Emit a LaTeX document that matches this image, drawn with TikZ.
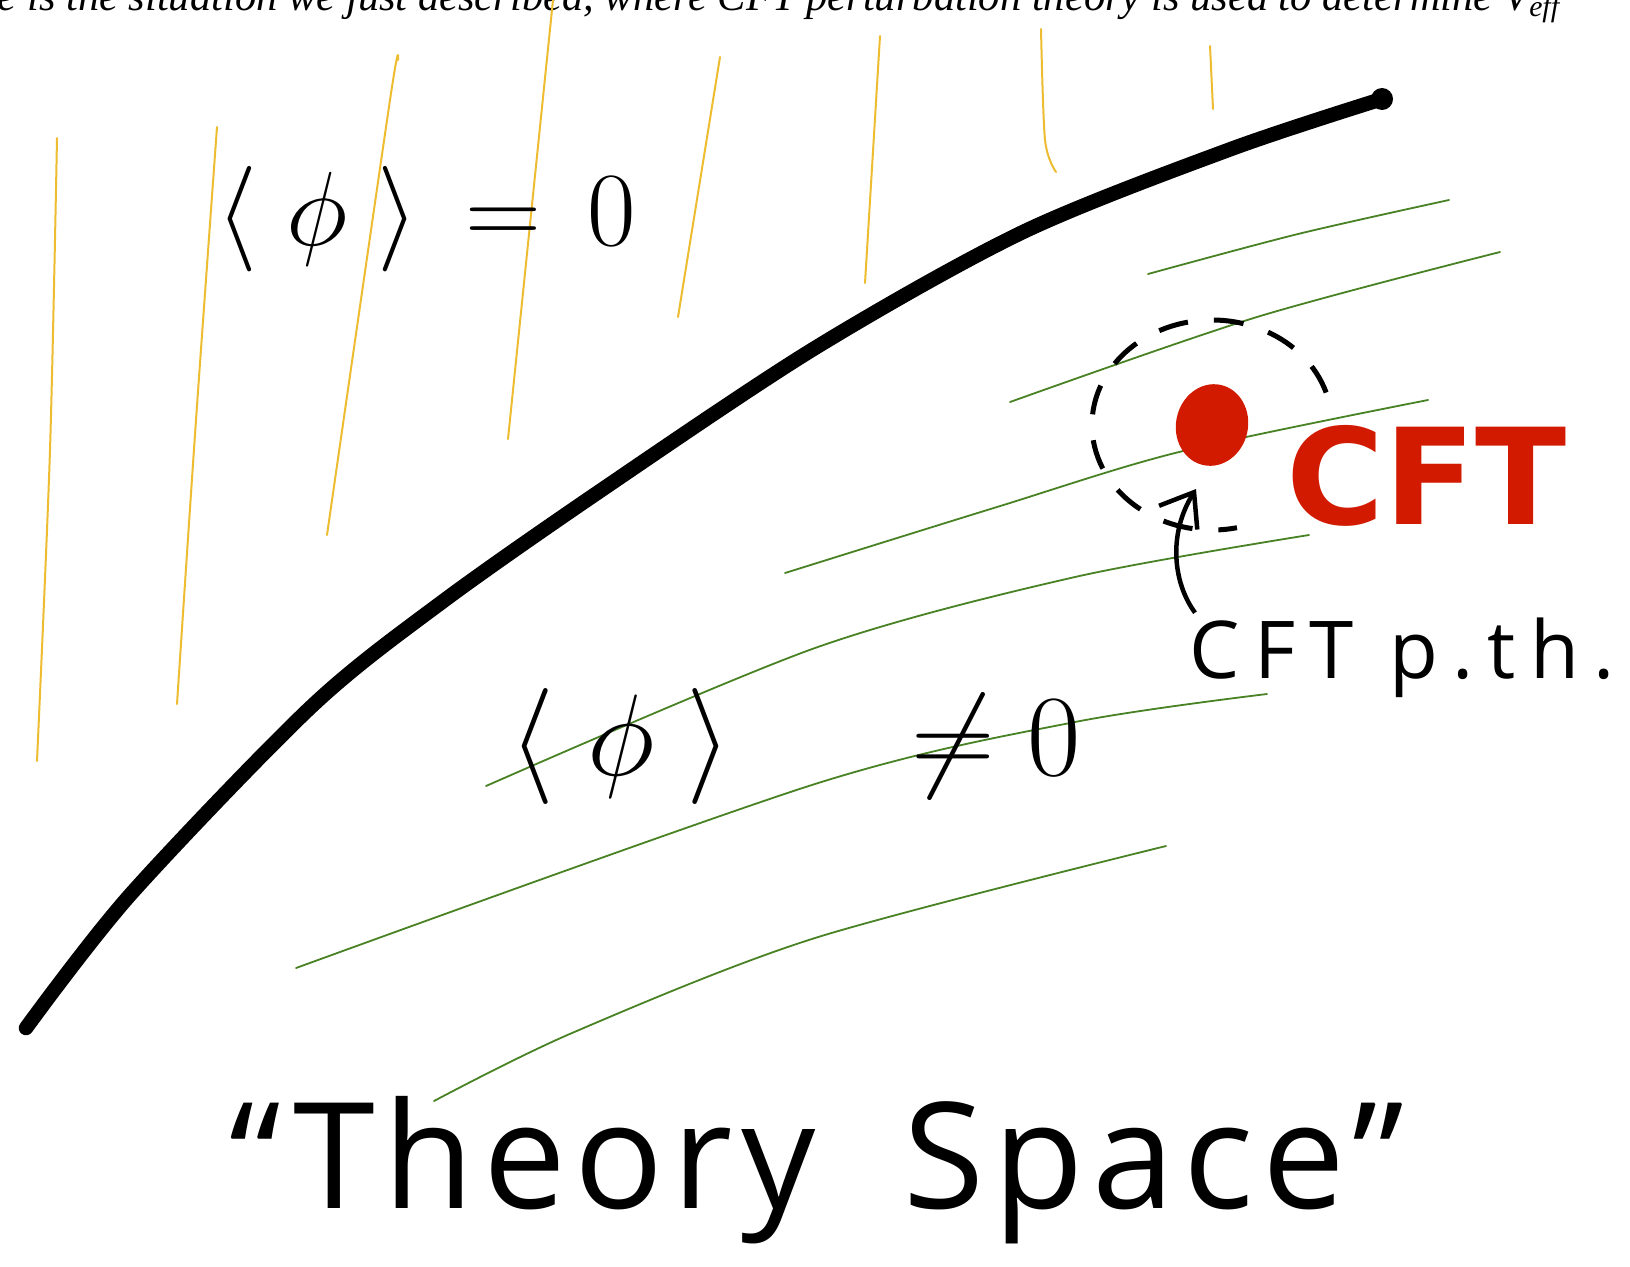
\RequirePackage{fix-cm}
\documentclass[tikz,border=0pt]{standalone}
\usepackage{fontspec}
\setmainfont{Liberation Serif}
\newfontfamily\handfont{Open Sans}
\newfontfamily\cftfont{DejaVu Sans}
\usetikzlibrary{shapes.geometric, arrows.meta}

\definecolor{fieldyellow}{RGB}{238,188,48}
\definecolor{flowgreen}{RGB}{72,130,36}
\definecolor{cftred}{RGB}{210,26,0}

\tikzset{
  field/.style={draw=fieldyellow, line width=0.2mm, line cap=round},
  flow/.style={draw=flowgreen, line width=0.18mm, line cap=round},
  handtext/.style={anchor=base west, inner sep=0pt},
}

\begin{document}
\begin{tikzpicture}[x=0.1mm, y=-0.1mm]
        \useasboundingbox (0,0) rectangle (1630,1266);
        \fill[white] (0,0) rectangle (1630,1266);
        \clip (0,0) rectangle (1630,1266);

        % Running text cut off at the top
        \node[handtext, font=\fontsize{12.1pt}{14pt}\selectfont\itshape] (topline) at (-3,10) {e is the situation we just described, where CFT perturbation theory is used to determine V\textsubscript{eff}};

        % Unbroken phase lines
        \draw[field] plot[smooth] coordinates {(57,138) (50,450) (37,761)};
        \draw[field] plot[smooth] coordinates {(217,127) (196,420) (177,704)};
        \draw[field] plot[smooth] coordinates {(398,60) (390,100) (327,535)};
        \draw[field] (553,0) -- (508,439);
        \draw[field] (720,57) -- (678,317);
        \draw[field] (880,36) -- (865,283);
        \draw[field] plot[smooth] coordinates {(1041,29) (1045,140) (1056,172)};
        \draw[field] (1210,46) -- (1213,109);

        % Flow lines in the broken phase
        \draw[flow] plot[smooth] coordinates {(1148,274) (1298,234) (1449,200)};
        \draw[flow] plot[smooth] coordinates {(1010,402) (1257,317) (1500,252)};
        \draw[flow] plot[smooth] coordinates {(785,573) (997,507) (1179,452) (1428,400)};
        \draw[flow] plot[smooth] coordinates {(486,786) (815,648) (1075,577) (1309,535)};
        \draw[flow] plot[smooth] coordinates {(296,968) (815,784) (1075,722) (1267,694)};
        \draw[flow] plot[smooth] coordinates {(434,1101) (572,1033) (815,938) (1166,846)};

        % Phase boundary
        \draw[line width=1.45mm, line cap=round] plot[smooth, tension=0.5] coordinates {(26,1028) (130,895) (312,706) (442,602) (600,491) (815,348) (1023,232) (1231,149) (1382,99)};
        \fill (1382,99) circle[radius=1.1mm];

        % Phase labels
        \node[handtext, font=\fontsize{30pt}{36pt}\selectfont] (unbroken) at (216,245) {$\langle\;\phi\;\rangle\,=\,0$};
        \node[handtext, font=\fontsize{33pt}{38pt}\selectfont] (broken) at (509,775) {$\langle\;\phi\;\rangle\quad\;\neq 0$};

        % Fixed point
        \node[ellipse, fill=cftred, minimum width=7.2mm, minimum height=8.2mm, inner sep=0pt, rotate=-12] (dot) at (1212,425) {};
        \draw[line width=0.5mm, dash pattern=on 3mm off 2.6mm] (dot.center) ++(-18:120 and 105) arc[start angle=-18, end angle=-282, x radius=120, y radius=105];
        \node[handtext, text=cftred, font=\fontsize{38pt}{40pt}\cftfont\bfseries] (cft) at (1286,524) {CFT};

        % Perturbation theory
        \node[handtext, font=\fontsize{22.7pt}{26pt}\handfont\addfontfeatures{LetterSpace=18}] (pth) at (1189,678) {CFT p.th.};
        \draw[line width=0.45mm, -{Straight Barb[length=3mm, width=4.5mm]}] ([shift={(6,-4)}]pth.north west) .. controls +(-22,-30) and +(-28,45) .. ([shift={(-16,64)}]dot.center);

        % Title
        \node[handtext, font=\fontsize{42pt}{48pt}\handfont\addfontfeatures{LetterSpace=6}] (title) at (229,1208) {“Theory\hspace{4mm} Space”};
\end{tikzpicture}
\end{document}
